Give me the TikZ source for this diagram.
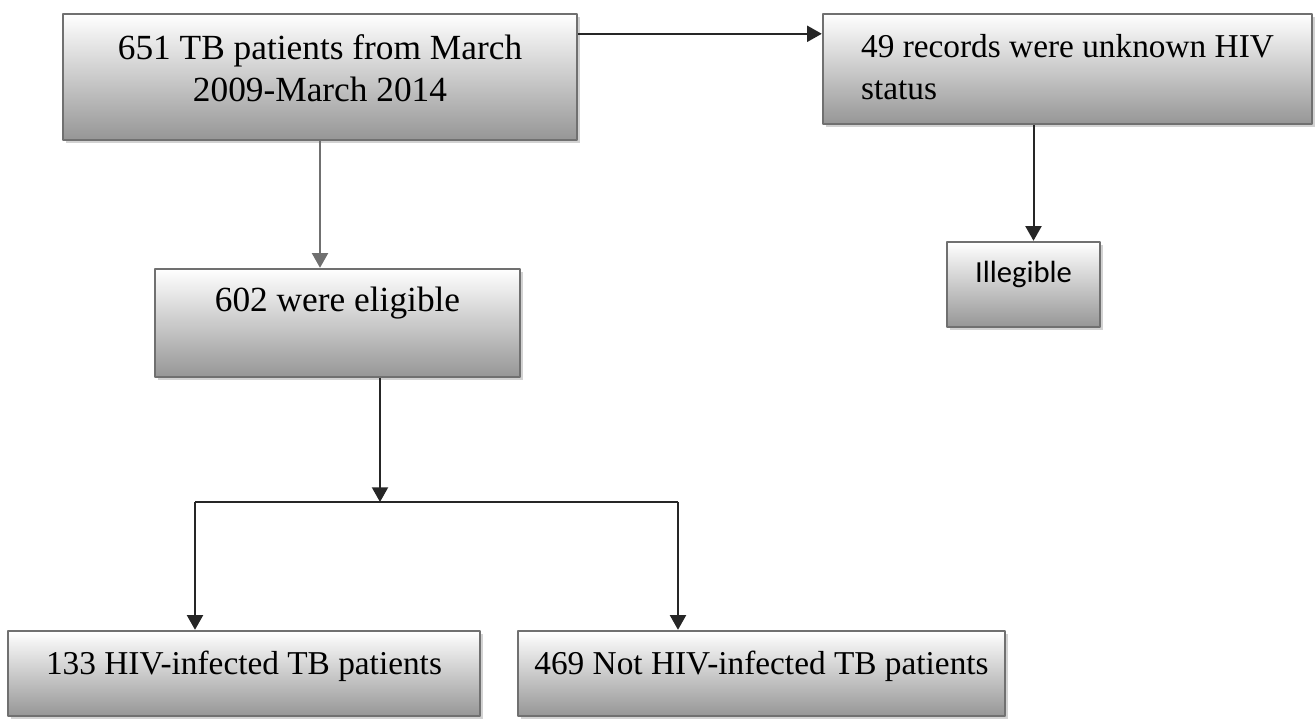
\documentclass[tikz,border=0pt]{standalone}
\usepackage{fontspec}
\setmainfont{Liberation Serif}
\newfontfamily\calibrifont{Carlito}
\usetikzlibrary{arrows.meta,shadows}
\definecolor{boxline}{HTML}{707070}
\definecolor{boxdark}{HTML}{969696}

\begin{document}
\begin{tikzpicture}[x=0.75pt, y=-0.75pt, font=\fontsize{25}{32}\selectfont, line join=round, >={Triangle[length=11pt,width=12pt]},
	box/.style={rectangle, draw=boxline, line width=1.8pt, top color=white, bottom color=boxdark, drop shadow={shadow xshift=2.5pt, shadow yshift=-2.5pt, fill=black!35}, inner sep=0pt, anchor=center, text height=17.25pt},
	big/.style={font=\fontsize{26.5}{32}\selectfont},
	link/.style={line width=1.5pt, draw=black!85, ->}]
	%			\draw[gray,step=50] (0,0) grid (1315,723);
	\useasboundingbox (0,0) rectangle (1315,723);
	
	\node[box, big, minimum width=385.5pt, minimum height=94.5pt, align=center, text height=49.5pt, text depth=12pt] (total) at (320,77) {651 TB patients from March\\2009-March 2014};
	\node[box, minimum width=366.75pt, minimum height=82.5pt, align=left, text height=49.25pt, text depth=2.75pt] (unknown) at (1067.5,69) {49 records were unknown HIV\\status};
	\node[box, big, minimum width=273.75pt, minimum height=81pt, text depth=33.75pt] (elig) at (337.5,323) {602 were eligible};
	\node[box, minimum width=114.75pt, minimum height=63.75pt, text depth=19.5pt, font=\calibrifont\fontsize{23}{28}\selectfont] (illeg) at (1023.5,284.5) {Illegible};
	\node[box, minimum width=354pt, minimum height=63.75pt, text depth=15pt] (hivpos) at (244,673.5) {133 HIV-infected TB patients};
	\node[box, minimum width=365.25pt, minimum height=63.75pt, text depth=15pt] (hivneg) at (761.5,673.5) {469 Not HIV-infected TB patients};
	
	\path
	(380,502) coordinate (split)
	(195,502) coordinate (splitL)
	(678,502) coordinate (splitR)
	;
	
	\draw[link] ([yshift=-15.75pt]total.north east) -- ([yshift=-15.75pt]unknown.north west);
	\draw[link, draw=boxline] (total.south) -- (total.south |- elig.north);
	\draw[link] ([xshift=7.5pt]illeg.north |- unknown.south) -- ([xshift=7.5pt]illeg.north);
	\draw[link] (elig.south -| split) -- (split);
	\draw[line width=1.5pt, draw=black!85] (splitL) -- (splitR);
	\draw[link] (splitL) -- (splitL |- hivpos.north);
	\draw[link] (splitR) -- (splitR |- hivneg.north);
\end{tikzpicture}
\end{document}
